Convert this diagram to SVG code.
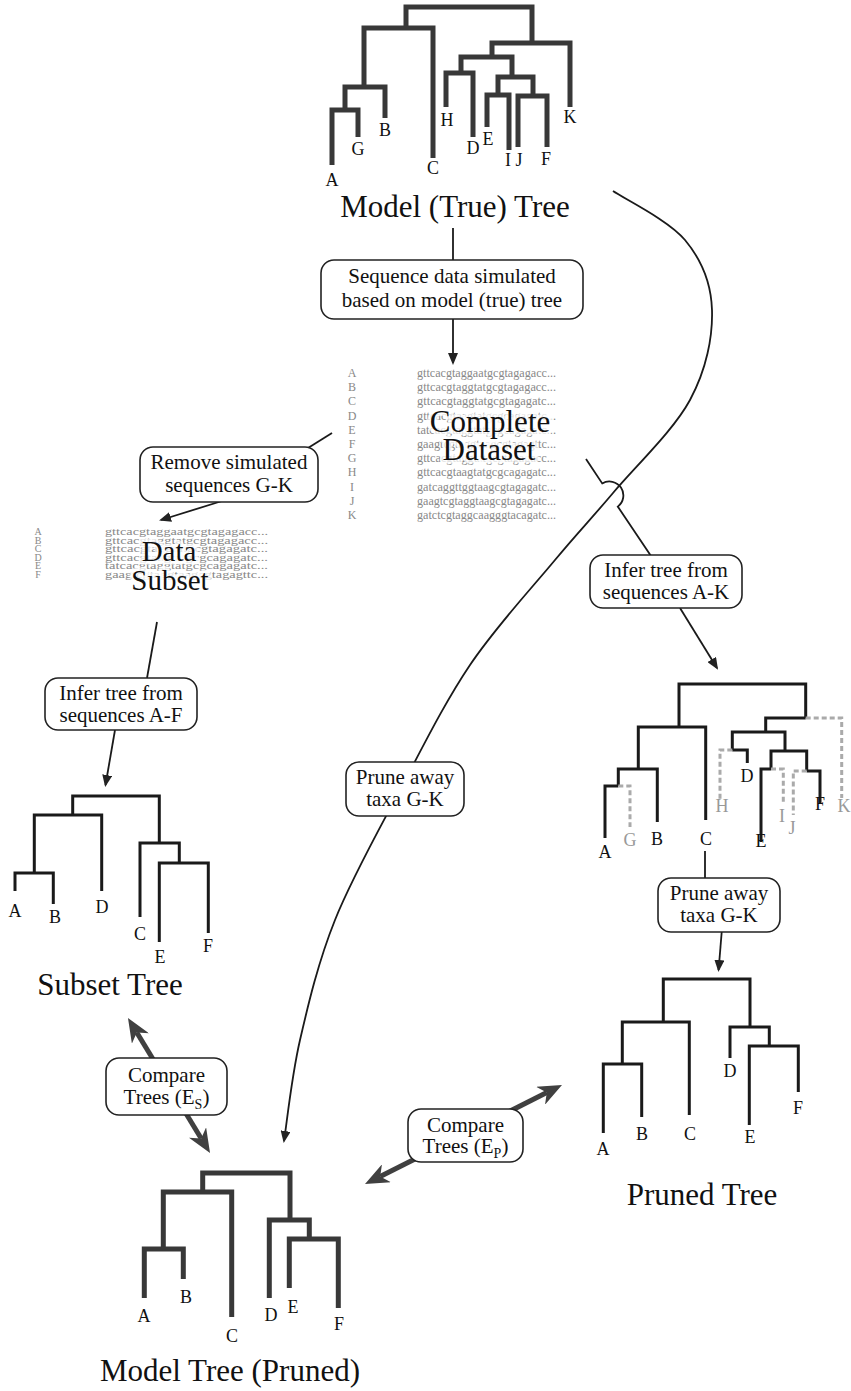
<svg xmlns="http://www.w3.org/2000/svg" width="851" height="1391" viewBox="0 0 851 1391">
<style>
text{font-family:"Liberation Serif","Times New Roman",serif;fill:#111}
.title{font-size:31px;text-anchor:middle}
.lbl{font-size:21px;text-anchor:middle}
.leaf{font-size:18px;text-anchor:middle}
.gleaf{font-size:18px;text-anchor:middle;fill:#999}
.box{fill:#fff;stroke:#222;stroke-width:1.6}
.thick{fill:none;stroke:#383838;stroke-width:5;stroke-linejoin:miter}
.thin{fill:none;stroke:#1a1a1a;stroke-width:3}
.dash{fill:none;stroke:#aaa;stroke-width:3;stroke-dasharray:5 3}
.conn{fill:none;stroke:#1a1a1a;stroke-width:1.8}
.big{fill:none;stroke:#404040;stroke-width:5}
.seq{font-size:12px;fill:#888}
.seqs{font-size:11px;fill:#888}
.col{font-size:12px;fill:#888;text-anchor:middle}
.cols{font-size:10px;fill:#888;text-anchor:middle}
.over{font-size:31px;text-anchor:middle;fill:#111;stroke:#fff;stroke-opacity:0.75;stroke-width:7;paint-order:stroke;stroke-linejoin:round}
.sub{font-size:14px}
</style>
<defs>
<marker id="ah" viewBox="0 0 12 10" refX="10" refY="5" markerWidth="12" markerHeight="10" markerUnits="userSpaceOnUse" orient="auto">
<path d="M0,0 L12,5 L0,10 Z" fill="#222"/>
</marker>
<marker id="bh" viewBox="0 0 24 20" refX="7" refY="10" markerWidth="24" markerHeight="20" markerUnits="userSpaceOnUse" orient="auto-start-reverse">
<path d="M0,0 L24,10 L0,20 L7,10 Z" fill="#404040"/>
</marker>
</defs>

<g id="connectors">
<path class="conn" d="M453,228 V260"/>
<path class="conn" d="M453,319 V363" marker-end="url(#ah)"/>
<path class="conn" d="M308,448 L332,433"/>
<path class="conn" d="M222,501 L161,520" marker-end="url(#ah)"/>
<path class="conn" d="M157,622 L147,678"/>
<path class="conn" d="M115,730 L105.5,785" marker-end="url(#ah)"/>
<path class="conn" d="M586,459 L602.2,483.4 A14,14 0 0 1 617.8,506.6 L651,556"/>
<path class="conn" d="M680,608 L717,668" marker-end="url(#ah)"/>
<path class="conn" d="M705,851 V878"/>
<path class="conn" d="M721.7,932 L718.6,970" marker-end="url(#ah)"/>
<path class="conn" stroke-width="2" d="M613,191 C625,199.2 668.5,220.2 685,240 C701.5,259.8 711.2,283.3 712,310 C712.8,336.7 706.5,369.5 690,400 C673.5,430.5 635.5,466.3 613,493 C590.5,519.7 578.8,531.3 555,560 C531.2,588.7 495.8,626.7 470,665 C444.2,703.3 422.5,747.5 400,790 C377.5,832.5 351.7,878.3 335,920 C318.3,961.7 308.5,1003.2 300,1040 C291.5,1076.8 286.7,1124.2 284,1141" marker-end="url(#ah)"/>
<path class="big" d="M136.8,1032.5 L201.2,1138.5" marker-start="url(#bh)" marker-end="url(#bh)"/>
<path class="big" d="M380.2,1176.4 L546.8,1092.6" marker-start="url(#bh)" marker-end="url(#bh)"/>
</g>

<g id="model-true-tree">
<path class="thick" d="M406,28 V7 H532 V43"/>
<path class="thick" d="M364,87 V28 H433 V158"/>
<path class="thick" d="M345,110 V87 H385 V118"/>
<path class="thick" d="M332,165 V110 H358 V137"/>
<path class="thick" d="M492,57 V43 H570 V107"/>
<path class="thick" d="M461,73 V57 H512 V77"/>
<path class="thick" d="M446,107 V73 H473 V137"/>
<path class="thick" d="M498,95 V77 H533 V96"/>
<path class="thick" d="M487,127 V95 H509 V150"/>
<path class="thick" d="M518,147 V96 H547 V147"/>
<text class="leaf" x="332" y="186">A</text>
<text class="leaf" x="358" y="155">G</text>
<text class="leaf" x="385" y="136">B</text>
<text class="leaf" x="433" y="174">C</text>
<text class="leaf" x="447" y="126">H</text>
<text class="leaf" x="473" y="154">D</text>
<text class="leaf" x="488" y="145">E</text>
<text class="leaf" x="508" y="166">I</text>
<text class="leaf" x="519" y="166">J</text>
<text class="leaf" x="546" y="165">F</text>
<text class="leaf" x="570" y="123">K</text>
<text class="title" x="455" y="217">Model (True) Tree</text>
</g>

<g id="box-simulate">
<rect class="box" x="321" y="260" width="262" height="59" rx="13"/>
<text class="lbl" x="452" y="283">Sequence data simulated</text>
<text class="lbl" x="452" y="307">based on model (true) tree</text>
</g>

<g id="complete-dataset">
<text class="col" x="352" y="377">A</text>
<text class="col" x="352" y="391">B</text>
<text class="col" x="352" y="405">C</text>
<text class="col" x="352" y="420">D</text>
<text class="col" x="352" y="434">E</text>
<text class="col" x="352" y="448">F</text>
<text class="col" x="352" y="462">G</text>
<text class="col" x="352" y="476">H</text>
<text class="col" x="352" y="491">I</text>
<text class="col" x="352" y="505">J</text>
<text class="col" x="352" y="519">K</text>
<g textLength="139">
<text class="seq" x="417" y="377" textLength="139" lengthAdjust="spacingAndGlyphs">gttcacgtaggaatgcgtagagacc...</text>
<text class="seq" x="417" y="391" textLength="139" lengthAdjust="spacingAndGlyphs">gttcacgtaggtatgcgtagagacc...</text>
<text class="seq" x="417" y="405" textLength="139" lengthAdjust="spacingAndGlyphs">gttcacgtaggtatgcgtagagatc...</text>
<text class="seq" x="417" y="420" textLength="139" lengthAdjust="spacingAndGlyphs">gttcacgtaagtatgcgcagagatc...</text>
<text class="seq" x="417" y="434" textLength="139" lengthAdjust="spacingAndGlyphs">tatcacgtaggtatgcgcagagatc...</text>
<text class="seq" x="417" y="448" textLength="139" lengthAdjust="spacingAndGlyphs">gaagtcgtaggtaagcgtagagttc...</text>
<text class="seq" x="417" y="462" textLength="139" lengthAdjust="spacingAndGlyphs">gttcacgtaggtatgcgtagagacc...</text>
<text class="seq" x="417" y="476" textLength="139" lengthAdjust="spacingAndGlyphs">gttcacgtaagtatgcgcagagatc...</text>
<text class="seq" x="417" y="491" textLength="139" lengthAdjust="spacingAndGlyphs">gatcaggttggtaagcgtagagatc...</text>
<text class="seq" x="417" y="505" textLength="139" lengthAdjust="spacingAndGlyphs">gaagtcgtaggtaagcgtagagatc...</text>
<text class="seq" x="417" y="519" textLength="139" lengthAdjust="spacingAndGlyphs">gatctcgtaggcaagggtacagatc...</text>
</g>
<text class="over" x="490" y="432">Complete</text>
<text class="over" x="489" y="460">Dataset</text>
</g>

<g id="box-remove">
<rect class="box" x="140" y="447" width="178" height="55" rx="13"/>
<text class="lbl" x="229" y="469">Remove simulated</text>
<text class="lbl" x="229" y="492">sequences G-K</text>
</g>

<g id="data-subset">
<text class="cols" x="38" y="535">A</text>
<text class="cols" x="38" y="543.5">B</text>
<text class="cols" x="38" y="552">C</text>
<text class="cols" x="38" y="560.5">D</text>
<text class="cols" x="38" y="569">E</text>
<text class="cols" x="38" y="577.5">F</text>
<text class="seqs" x="105" y="535" textLength="163" lengthAdjust="spacingAndGlyphs">gttcacgtaggaatgcgtagagacc...</text>
<text class="seqs" x="105" y="543.5" textLength="163" lengthAdjust="spacingAndGlyphs">gttcacgtaggtatgcgtagagacc...</text>
<text class="seqs" x="105" y="552" textLength="163" lengthAdjust="spacingAndGlyphs">gttcacgtaggtatgcgtagagatc...</text>
<text class="seqs" x="105" y="560.5" textLength="163" lengthAdjust="spacingAndGlyphs">gttcacgtaagtatgcgcagagatc...</text>
<text class="seqs" x="105" y="569" textLength="163" lengthAdjust="spacingAndGlyphs">tatcacgtaggtatgcgcagagatc...</text>
<text class="seqs" x="105" y="577.5" textLength="163" lengthAdjust="spacingAndGlyphs">gaagtcgtaggtaagcgtagagttc...</text>
<text class="over" x="169" y="561" style="font-size:29px">Data</text>
<text class="over" x="170" y="590" style="font-size:29px">Subset</text>
</g>

<g id="box-infer-af">
<rect class="box" x="45" y="678" width="152" height="52" rx="13"/>
<text class="lbl" x="121" y="700">Infer tree from</text>
<text class="lbl" x="121" y="722">sequences A-F</text>
</g>

<g id="subset-tree">
<path class="thin" d="M72.7,815 V796 H159.3 V843"/>
<path class="thin" d="M34.3,873 V815 H101.7 V891"/>
<path class="thin" d="M15,891 V873 H53.3 V904"/>
<path class="thin" d="M140,917 V843 H179.3 V863"/>
<path class="thin" d="M159.3,942 V863 H208.3 V933"/>
<text class="leaf" x="15" y="917">A</text>
<text class="leaf" x="55" y="923">B</text>
<text class="leaf" x="102" y="913">D</text>
<text class="leaf" x="140" y="940">C</text>
<text class="leaf" x="160" y="963">E</text>
<text class="leaf" x="208" y="952">F</text>
<text class="title" x="110" y="995">Subset Tree</text>
</g>

<g id="box-infer-ak">
<rect class="box" x="590" y="555" width="152" height="53" rx="13"/>
<text class="lbl" x="666" y="577">Infer tree from</text>
<text class="lbl" x="666" y="599">sequences A-K</text>
</g>

<g id="inferred-tree">
<path class="thin" d="M679,727 V684 H805.7 V718"/>
<path class="thin" d="M638.3,769 V727 H705.7 V820"/>
<path class="thin" d="M618.3,786 V769 H657.3 V822"/>
<path class="thin" d="M605,838 V786 H618.3"/>
<path class="dash" d="M618.3,786 H630 V827"/>
<path class="thin" d="M765.7,732 V718 H805.7"/>
<path class="dash" d="M805.7,718 H841.7 V798"/>
<path class="thin" d="M732.3,750 V732 H785 V751"/>
<path class="thin" d="M732.3,750 H747.3 V763"/>
<path class="dash" d="M732.3,750 H720 V800"/>
<path class="thin" d="M771,769 V751 H806.7 V771"/>
<path class="thin" d="M761,842 V769 H771"/>
<path class="dash" d="M771,769 H783.3 V803"/>
<path class="thin" d="M806.7,771 H820 V803"/>
<path class="dash" d="M806.7,771 H793.3 V815"/>
<text class="leaf" x="605" y="858">A</text>
<text class="gleaf" x="630" y="846">G</text>
<text class="leaf" x="657" y="845">B</text>
<text class="leaf" x="706" y="845">C</text>
<text class="gleaf" x="722" y="812">H</text>
<text class="leaf" x="747" y="782">D</text>
<text class="leaf" x="761" y="847">E</text>
<text class="gleaf" x="782" y="822">I</text>
<text class="gleaf" x="792" y="834">J</text>
<text class="leaf" x="820" y="810">F</text>
<text class="gleaf" x="844" y="812">K</text>
</g>

<g id="box-prune-mid">
<rect class="box" x="346" y="762" width="118" height="54" rx="13"/>
<text class="lbl" x="405" y="784">Prune away</text>
<text class="lbl" x="405" y="806">taxa G-K</text>
</g>

<g id="box-prune-right">
<rect class="box" x="658" y="878" width="122" height="54" rx="13"/>
<text class="lbl" x="719" y="900">Prune away</text>
<text class="lbl" x="719" y="922">taxa G-K</text>
</g>

<g id="pruned-tree">
<path class="thin" d="M663.3,1022 V979 H750 V1027"/>
<path class="thin" d="M622.3,1064 V1022 H689.3 V1115"/>
<path class="thin" d="M603.3,1133 V1064 H641.7 V1117"/>
<path class="thin" d="M730,1058 V1027 H769.3 V1046"/>
<path class="thin" d="M749.3,1125 V1046 H798.3 V1092"/>
<text class="leaf" x="603" y="1155">A</text>
<text class="leaf" x="642" y="1140">B</text>
<text class="leaf" x="690" y="1140">C</text>
<text class="leaf" x="730" y="1077">D</text>
<text class="leaf" x="750" y="1143">E</text>
<text class="leaf" x="798" y="1114">F</text>
<text class="title" x="702" y="1205">Pruned Tree</text>
</g>

<g id="box-compare-es">
<rect class="box" x="106" y="1058" width="121" height="57" rx="13"/>
<text class="lbl" x="166.5" y="1082">Compare</text>
<text class="lbl" x="166.5" y="1104">Trees (E<tspan class="sub" dy="5">S</tspan><tspan dy="-5">)</tspan></text>
</g>

<g id="box-compare-ep">
<rect class="box" x="408" y="1109" width="115" height="53" rx="13"/>
<text class="lbl" x="465.5" y="1132">Compare</text>
<text class="lbl" x="465.5" y="1153">Trees (E<tspan class="sub" dy="5">P</tspan><tspan dy="-5">)</tspan></text>
</g>

<g id="model-tree-pruned">
<path class="thick" d="M202.7,1192 V1173 H290 V1220"/>
<path class="thick" d="M163.3,1249 V1192 H231.7 V1317"/>
<path class="thick" d="M144.3,1298 V1249 H183.3 V1279"/>
<path class="thick" d="M269.3,1298 V1220 H309.3 V1239"/>
<path class="thick" d="M289.3,1288 V1239 H338.3 V1308"/>
<text class="leaf" x="144" y="1322">A</text>
<text class="leaf" x="186" y="1303">B</text>
<text class="leaf" x="232" y="1342">C</text>
<text class="leaf" x="271" y="1321">D</text>
<text class="leaf" x="293" y="1313">E</text>
<text class="leaf" x="339" y="1330">F</text>
<text class="title" x="230" y="1381">Model Tree (Pruned)</text>
</g>
</svg>
